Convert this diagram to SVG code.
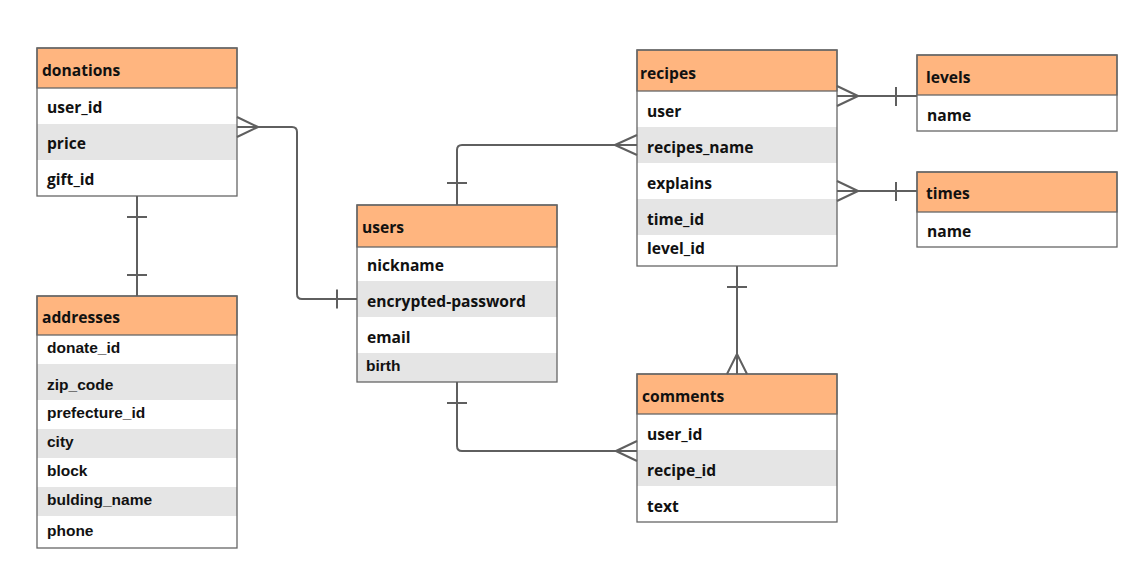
<svg xmlns="http://www.w3.org/2000/svg" width="1144" height="575" viewBox="0 0 1144 575">
  <defs>
    <style>
      .hd { fill: #ffb57f; stroke: #666; stroke-width: 1.3; }
      .bx { fill: none; stroke: #666; stroke-width: 1.3; }
      .wh { fill: #ffffff; }
      .gr { fill: #e5e5e5; }
      .t { font-family: "Open Sans", "Noto Sans", sans-serif; font-weight: bold; font-size: 15.6px; fill: #111; }
      .a { font-family: "Liberation Sans", Arial, sans-serif; font-weight: bold; font-size: 15.5px; fill: #111; }
      .ln { fill: none; stroke: #5f5f5f; stroke-width: 2; stroke-linejoin: round; }
    </style>
  </defs>
  <rect width="1144" height="575" fill="#ffffff"/>

  <!-- tables -->
  <g id="donations">
    <rect class="wh" x="37" y="88" width="200" height="108"/>
    <rect class="gr" x="37" y="124" width="200" height="36"/>
    <rect class="hd" x="37" y="48" width="200" height="40"/>
    <rect class="bx" x="37" y="48" width="200" height="148"/>
    <text class="t" x="42" y="76">donations</text>
    <text class="t" x="47" y="113">user_id</text>
    <text class="t" x="47" y="149">price</text>
    <text class="t" x="47" y="185">gift_id</text>
  </g>

  <g id="addresses">
    <rect class="wh" x="37" y="335" width="200" height="213"/>
    <rect class="gr" x="37" y="364" width="200" height="36"/>
    <rect class="gr" x="37" y="429" width="200" height="29"/>
    <rect class="gr" x="37" y="487" width="200" height="29"/>
    <rect class="hd" x="37" y="296" width="200" height="39"/>
    <rect class="bx" x="37" y="296" width="200" height="252"/>
    <text class="t" x="42" y="323">addresses</text>
    <text class="a" x="47" y="353">donate_id</text>
    <text class="a" x="47" y="390">zip_code</text>
    <text class="a" x="47" y="418">prefecture_id</text>
    <text class="a" x="47" y="447">city</text>
    <text class="a" x="47" y="476">block</text>
    <text class="a" x="47" y="505">bulding_name</text>
    <text class="a" x="47" y="536">phone</text>
  </g>

  <g id="users">
    <rect class="wh" x="357" y="247" width="200" height="135"/>
    <rect class="gr" x="357" y="281" width="200" height="36"/>
    <rect class="gr" x="357" y="353" width="200" height="29"/>
    <rect class="hd" x="357" y="205" width="200" height="42"/>
    <rect class="bx" x="357" y="205" width="200" height="177"/>
    <text class="t" x="362" y="233">users</text>
    <text class="t" x="367" y="271">nickname</text>
    <text class="t" x="367" y="307">encrypted-password</text>
    <text class="t" x="367" y="343">email</text>
    <text class="a" x="366" y="371">birth</text>
  </g>

  <g id="recipes">
    <rect class="wh" x="637" y="91" width="200" height="175"/>
    <rect class="gr" x="637" y="127" width="200" height="36"/>
    <rect class="gr" x="637" y="199" width="200" height="36"/>
    <rect class="hd" x="637" y="50" width="200" height="41"/>
    <rect class="bx" x="637" y="50" width="200" height="216"/>
    <text class="t" x="640" y="79">recipes</text>
    <text class="t" x="647" y="117">user</text>
    <text class="t" x="647" y="153">recipes_name</text>
    <text class="t" x="647" y="189">explains</text>
    <text class="t" x="647" y="225">time_id</text>
    <text class="t" x="647" y="254">level_id</text>
  </g>

  <g id="levels">
    <rect class="wh" x="917" y="95" width="200" height="36"/>
    <rect class="hd" x="917" y="55" width="200" height="40"/>
    <rect class="bx" x="917" y="55" width="200" height="76"/>
    <text class="t" x="926" y="83">levels</text>
    <text class="t" x="927" y="121">name</text>
  </g>

  <g id="times">
    <rect class="wh" x="917" y="212" width="200" height="35"/>
    <rect class="hd" x="917" y="172" width="200" height="40"/>
    <rect class="bx" x="917" y="172" width="200" height="75"/>
    <text class="t" x="926" y="199">times</text>
    <text class="t" x="927" y="237">name</text>
  </g>

  <g id="comments">
    <rect class="wh" x="637" y="414" width="200" height="108"/>
    <rect class="gr" x="637" y="450" width="200" height="36"/>
    <rect class="hd" x="637" y="374" width="200" height="40"/>
    <rect class="bx" x="637" y="374" width="200" height="148"/>
    <text class="t" x="642" y="402">comments</text>
    <text class="t" x="647" y="440">user_id</text>
    <text class="t" x="647" y="476">recipe_id</text>
    <text class="t" x="647" y="512">text</text>
  </g>

  <!-- relationships -->
  <g id="connectors" class="ln">
    <!-- donations 1 : 1 addresses -->
    <path d="M137 196 V296"/>
    <path d="M127 217 H147 M127 275 H147"/>

    <!-- donations N : 1 users -->
    <path d="M237 127 H292 Q297 127 297 132 V294 Q297 299 302 299 H357"/>
    <path d="M237 117 L258 127 L237 137"/>
    <path d="M337 289.5 V308.5"/>

    <!-- users 1 : N recipes -->
    <path d="M457 205 V150 Q457 145 462 145 H637"/>
    <path d="M447 183 H467"/>
    <path d="M637 135 L615 145 L637 155"/>

    <!-- recipes N : 1 levels -->
    <path d="M837 96 H917"/>
    <path d="M837 86 L858 96 L837 106"/>
    <path d="M896 87 V106"/>

    <!-- recipes N : 1 times -->
    <path d="M837 191 H917"/>
    <path d="M837 181 L858 191 L837 201"/>
    <path d="M896 182 V201"/>

    <!-- recipes 1 : N comments -->
    <path d="M737 266 V374"/>
    <path d="M727 287 H747"/>
    <path d="M727 374 L737 354 L747 374"/>

    <!-- users 1 : N comments -->
    <path d="M457 382 V446 Q457 451 462 451 H637"/>
    <path d="M447 403 H467"/>
    <path d="M637 441 L616 451 L637 461"/>
  </g>
</svg>
